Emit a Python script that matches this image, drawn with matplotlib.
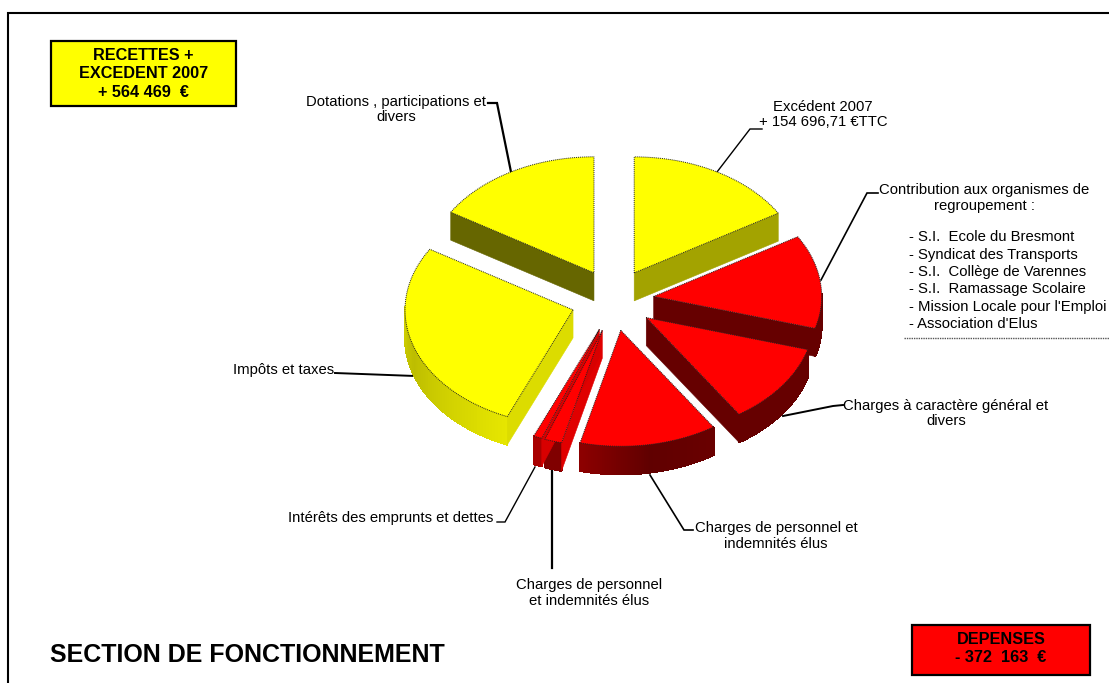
import numpy as np
import matplotlib
matplotlib.use("Agg")
import matplotlib.pyplot as plt
from matplotlib.patches import Polygon, Rectangle

plt.rcParams['font.family'] = ['Liberation Sans', 'DejaVu Sans']

# Slices clockwise from 12 o'clock, shares of the pie in percent
names = ["Excédent 2007", "Contribution aux organismes", "Charges à caractère général",
         "Charges de personnel", "Charges de personnel (2)", "Intérêts des emprunts",
         "Impôts et taxes", "Dotations"]
shares = [16.4, 13.05, 11.25, 13.2, 1.67, 0.83, 27.36, 16.25]
explode = [41, 40, 40, 40, 40, 40, 43, 41]
nudge_y = [0.5, 3, 0, -1, 0, 0, 1.5, 0.5]
top_colors = ["#ffff00", "#ff0000", "#ff0000", "#ff0000", "#ff0000", "#ff0000", "#ffff00", "#ffff00"]
radial_colors = ["#a3a300", "#660000", "#660000", "#660000", "#e00000", "#d80000", "#dcdc00", "#666600"]
arc_colors = [("#a3a300",) * 3, ("#660000",) * 3, ("#660000",) * 3,
              ("#6a0000", "#600000", "#8c0000"), ("#800000",) * 3, ("#a80000",) * 3,
              ("#e6e600", "#bdbd00", "#e6e600"), ("#666600",) * 3]
draw_order = [7, 0, 1, 2, 3, 6, 4, 5]

CX, CY, RX, RY, DEPTH = 614, 297, 168, 116, 28
EDGE = dict(edgecolor="#222222", linewidth=0.7, linestyle=(0, (1, 1)))


def hex2rgb(h):
    return np.array(matplotlib.colors.to_rgb(h))


def pt(apex, th):
    return apex[0] + RX * np.sin(th), apex[1] - RY * np.cos(th)


fig = plt.figure(figsize=(11.09, 6.83), dpi=100)
ax = fig.add_axes([0, 0, 1, 1])
ax.set_xlim(0, 1109)
ax.set_ylim(683, 0)
ax.axis("off")

edges = np.radians(np.concatenate([[0], np.cumsum(shares)]) / np.sum(shares) * 360)

for i in draw_order:
    a0, a1 = edges[i], edges[i + 1]
    mid = (a0 + a1) / 2
    c = np.cos(mid)
    apex = (CX + explode[i] * np.sin(mid),
            CY - explode[i] * c * (0.69 if c > 0 else 0.87) + nudge_y[i])
    th = np.linspace(a0, a1, 80)
    arc = np.array([pt(apex, t) for t in th])

    # outer wall, in shaded strips
    cs = [hex2rgb(h) for h in arc_colors[i]]
    for k in range(len(th) - 1):
        if np.cos(th[k]) > 0.02 and np.cos(th[k + 1]) > 0.02:
            continue
        f = k / (len(th) - 2)
        col = cs[0] + (cs[1] - cs[0]) * f * 2 if f < .5 else cs[1] + (cs[2] - cs[1]) * (f - .5) * 2
        p, q = arc[k], arc[k + 1]
        ax.add_patch(Polygon([p, q, (q[0], q[1] + DEPTH), (p[0], p[1] + DEPTH)], closed=True,
                             facecolor=col, edgecolor=col, linewidth=0.8, antialiased=False, zorder=2))
    # radial wall that faces the viewer
    for ang, show in ((a0, np.sin(a0) < -1e-6), (a1, 1e-6 < np.sin(a1))):
        if show:
            e = pt(apex, ang)
            ax.add_patch(Polygon([apex, e, (e[0], e[1] + DEPTH), (apex[0], apex[1] + DEPTH)],
                                 closed=True, facecolor=radial_colors[i], edgecolor=radial_colors[i],
                                 linewidth=0.4, zorder=2))
    # top face
    ax.add_patch(Polygon(np.vstack([[apex], arc]), closed=True, facecolor=top_colors[i],
                         zorder=3, **EDGE))

# Frame
ax.plot([8, 8, 1109], [683, 12.5, 12.5], color="black", lw=1.5, solid_joinstyle="miter", zorder=1)

# Boxes
for (x0, y0, x1, y1, col, txt, yc) in [
    (51, 41, 236, 106, "#ffff00", "RECETTES +\nEXCEDENT 2007\n+ 564 469  €", 74),
    (912, 625, 1090, 675, "#ff0000", "DEPENSES\n- 372  163  €", 648.5),
]:
    ax.add_patch(Rectangle((x0, y0), x1 - x0, y1 - y0, facecolor=col, edgecolor="black", lw=1.6, zorder=4))
    ax.text((x0 + x1) / 2, yc, txt, ha="center", va="center", fontsize=11.7, fontweight="bold",
            linespacing=1.29, zorder=5)

ax.text(50, 655, "SECTION DE FONCTIONNEMENT", ha="left", va="center", fontsize=18, fontweight="bold")

# Leader lines
leaders = [
    ([488, 497, 511], [103, 103, 172], 1.6),
    ([762, 750, 717], [129, 129, 172], 1.0),
    ([878, 867, 821], [193, 193, 280], 1.2),
    ([843, 833, 783], [405, 406, 416], 1.4),
    ([693, 684, 650], [530, 530, 475], 1.2),
    ([552, 552], [470, 568], 1.6),
    ([497, 505, 535], [522, 522, 467], 1.0),
    ([335, 415], [373, 376], 1.4),
]
for xs, ys, w in leaders:
    ax.plot(xs, ys, color="black", lw=w, zorder=1.5, solid_joinstyle="miter")

# Labels
FS = 10.7
labels = [
    (396, 109.5, "Dotations , participations et\ndivers"),
    (823, 114.5, "Excédent 2007\n+ 154 696,71 €TTC"),
    (984, 198, "Contribution aux organismes de\nregroupement :"),
    (946, 413.5, "Charges à caractère général et\ndivers"),
    (776, 536, "Charges de personnel et\nindemnités élus"),
    (589, 593, "Charges de personnel\net indemnités élus"),
]
for x, y, t in labels:
    ax.text(x, y, t, ha="center", va="center", fontsize=FS, linespacing=1.15, zorder=5)
ax.text(233, 370, "Impôts et taxes", ha="left", va="center", fontsize=FS, zorder=5)
ax.text(288, 518, "Intérêts des emprunts et dettes", ha="left", va="center", fontsize=FS, zorder=5)

members = ["- S.I.  Ecole du Bresmont", "- Syndicat des Transports", "- S.I.  Collège de Varennes",
           "- S.I.  Ramassage Scolaire", "- Mission Locale pour l'Emploi", "- Association d'Elus"]
member_y = [237, 255, 272, 289, 307, 324]
for y, t in zip(member_y, members):
    ax.text(909, y, t, ha="left", va="center", fontsize=FS, zorder=5)
ax.plot([904, 1109], [338, 338], color="#555555", lw=1.0, ls=(0, (1, 0.7)), zorder=1)

fig.savefig("out.png", dpi=100)
